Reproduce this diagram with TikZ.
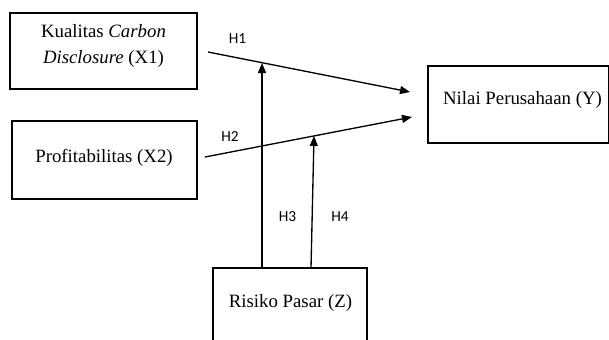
\documentclass[tikz,border=0pt]{standalone}
\usepackage{fontspec}
\setmainfont{Liberation Serif}
\newfontfamily\hfont{Carlito}
\usetikzlibrary{arrows.meta,fit}
\begin{document}
\begin{tikzpicture}[x=0.75pt,y=-0.75pt,
  box/.style={draw,line width=0.8pt,inner sep=0pt},
  lbl/.style={font=\fontsize{14.1}{18.8}\selectfont,align=center,inner sep=0pt,anchor=base},
  hyp/.style={font=\hfont\fontsize{11.5}{13}\selectfont,inner sep=0pt,anchor=base},
  conn/.style={line width=1pt},
  arr/.style={conn,-{Triangle[length=7.5pt,width=6pt]}}]
\useasboundingbox (0,0) rectangle (609,339);
\clip (0,0) rectangle (609,339);
% boxes
\node[box,fit={(10,13) (197,89)}] (x1) {};
\node[box,fit={(12,121) (197,199)}] (x2) {};
\node[box,fit={(428,66) (608.5,143)}] (y) {};
\node[box,fit={(213,268) (367,350)}] (z) {};
% box texts
\node[lbl] (x1t) at (103.5,63) {Kualitas \textit{Carbon}\\\textit{Disclosure} (X1)};
\node[lbl] (x2t) at (104,162) {Profitabilitas (X2)};
\node[lbl] (yt) at (522.5,104) {Nilai Perusahaan (Y)};
\node[lbl] (zt) at (290.5,307) {Risiko Pasar (Z)};
% connector end points
\coordinate (a1s) at (208,52);
\coordinate (a1e) at (410,92);
\coordinate (a2s) at (205,157);
\coordinate (a2e) at (412,117);
\coordinate (h3s) at (262,268);
\coordinate (h3e) at (262,63);
\coordinate (h4s) at (311,268);
\coordinate (h4e) at (314,136);
\draw[arr] (a1s) -- (a1e);
\draw[arr] (a2s) -- (a2e);
\draw[arr] (h3s) -- (h3e);
\draw[arr] (h4s) -- (h4e);
% hypothesis labels
\node[hyp] (h1) at (237.5,43.3) {H1};
\node[hyp] (h2) at (230,141.7) {H2};
\node[hyp] (h3) at (287.5,221.7) {H3};
\node[hyp] (h4) at (340,221.7) {H4};
\end{tikzpicture}
\end{document}
